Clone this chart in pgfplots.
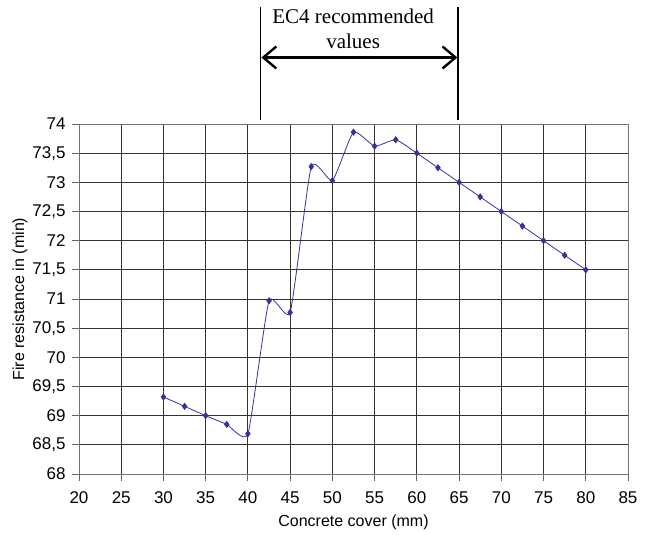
\documentclass[border=0pt]{standalone}
\usepackage{pgfplots}
\pgfplotsset{compat=1.18}
\usepackage{fontspec}
\setmainfont{Liberation Sans}
\newfontfamily\seriffont{Liberation Serif}
\usetikzlibrary{arrows.meta}
\definecolor{navy}{RGB}{51,51,153}
\begin{document}
\begin{tikzpicture}
\begin{axis}[
  scale only axis,
  width=549pt, height=350pt,
  xmin=20, xmax=85, ymin=68, ymax=74,
  xtick={20,25,...,85},
  ytick={68,68.5,...,74},
  grid=major,
  major grid style={black!80, line width=0.9pt},
  axis line style={black!55, line width=0.9pt},
  tick style={black!60, line width=0.9pt},
  tick align=outside,
  major tick length=7pt,
  xtick pos=bottom, ytick pos=left,
  /pgf/number format/.cd, use comma, 1000 sep={}, fixed, assume math mode=true,
  /pgfplots/.cd,
  ticklabel style={font=\fontsize{17}{19}\selectfont},
  yticklabel style={xshift=-3pt},
  xticklabel style={yshift=-7pt},
  xlabel={Concrete cover (mm)},
  ylabel={Fire resistance in (min)},
  label style={font=\fontsize{16}{18}\selectfont},
  xlabel style={at={(axis description cs:0.5,-0.137)}, anchor=center},
  ylabel style={at={(axis description cs:-0.1075,0.5)}, anchor=center},
  clip=false,
]
\addplot[navy, line width=0.8pt, smooth, tension=0.3, mark=diamond*, mark size=3pt, mark options={fill=navy, draw=navy}] coordinates {
(30,69.32) (32.5,69.16) (35,69.0) (37.5,68.85) (40,68.69)
(42.5,70.97) (45,70.77) (47.5,73.27) (50,73.03)
(52.5,73.86) (55,73.62) (57.5,73.73) (60,73.5) (62.5,73.25)
(65,73.0) (67.5,72.75) (70,72.5) (72.5,72.25) (75,72.0)
(77.5,71.75) (80,71.5)
};
\draw[black, line width=1.8pt] (axis cs:41.5,74.07) -- (axis cs:41.5,76.01);
\draw[black, line width=1.8pt] (axis cs:64.9,74.07) -- (axis cs:64.9,76.01);
\draw[black, line width=2.4pt, {Straight Barb[length=13pt,width=22pt]}-{Straight Barb[length=13pt,width=22pt]}] (axis cs:41.6,75.14) -- (axis cs:64.8,75.14);
\node[font=\seriffont\fontsize{21}{23}\selectfont, anchor=base] at (axis cs:52.46,75.73) {EC4 recommended};
\node[font=\seriffont\fontsize{21}{23}\selectfont, anchor=base] at (axis cs:52.46,75.30) {values};
\end{axis}
\path ([shift={(-79pt,-61pt)}]current axis.south west) rectangle ++(649pt,535pt);
\end{tikzpicture}
\end{document}
